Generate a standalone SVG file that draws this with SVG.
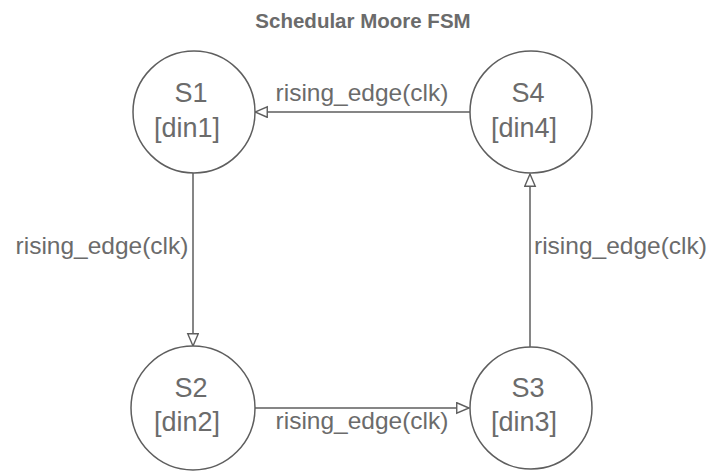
<svg xmlns="http://www.w3.org/2000/svg" width="722" height="472" viewBox="0 0 722 472">
  <style>
    .state { fill: #ffffff; stroke: #5e5e5e; stroke-width: 1.5; }
    .edge { fill: none; stroke: #5e5e5e; stroke-width: 1.5; }
    .label { font-family: "Liberation Sans", Arial, sans-serif; font-size: 24.5px; fill: #6b6b6b; }
    .name { font-family: "Liberation Sans", Arial, sans-serif; font-size: 27px; fill: #6b6b6b; text-anchor: middle; }
    .title { font-family: "Liberation Sans", Arial, sans-serif; font-size: 20.5px; font-weight: bold; fill: #6b6b6b; text-anchor: middle; }
  </style>
  <defs>
    <marker id="hollow" markerUnits="userSpaceOnUse" markerWidth="16" markerHeight="14" refX="13" refY="6" orient="auto">
      <path d="M0.75,0.75 L13,6 L0.75,11.25 Z" fill="#ffffff" stroke="#5e5e5e" stroke-width="1.4"/>
    </marker>
  </defs>

  <rect width="722" height="472" fill="#ffffff"/>

  <text class="title" x="363" y="28">Schedular Moore FSM</text>

  <!-- transitions -->
  <g id="connectors">
    <line class="edge" x1="470" y1="112" x2="255" y2="112" marker-end="url(#hollow)"/>
    <line class="edge" x1="193" y1="173" x2="193" y2="346" marker-end="url(#hollow)"/>
    <line class="edge" x1="255" y1="408" x2="469" y2="408" marker-end="url(#hollow)"/>
    <line class="edge" x1="530" y1="347" x2="530" y2="174" marker-end="url(#hollow)"/>
    <text class="label" x="362" y="101" text-anchor="middle">rising_edge(clk)</text>
    <text class="label" x="102" y="254" text-anchor="middle">rising_edge(clk)</text>
    <text class="label" x="362" y="429" text-anchor="middle">rising_edge(clk)</text>
    <text class="label" x="534" y="254">rising_edge(clk)</text>
  </g>

  <!-- states -->
  <g id="S1">
    <circle class="state" cx="194" cy="112" r="61"/>
    <text class="name" x="191" y="102">S1</text>
    <text class="name" x="187" y="137">[din1]</text>
  </g>
  <g id="S4">
    <circle class="state" cx="531" cy="112" r="61"/>
    <text class="name" x="528" y="102">S4</text>
    <text class="name" x="524" y="137">[din4]</text>
  </g>
  <g id="S2">
    <circle class="state" cx="193" cy="408" r="62"/>
    <text class="name" x="191" y="397">S2</text>
    <text class="name" x="187" y="431">[din2]</text>
  </g>
  <g id="S3">
    <circle class="state" cx="531" cy="408" r="61"/>
    <text class="name" x="528" y="397">S3</text>
    <text class="name" x="524" y="431">[din3]</text>
  </g>
</svg>
